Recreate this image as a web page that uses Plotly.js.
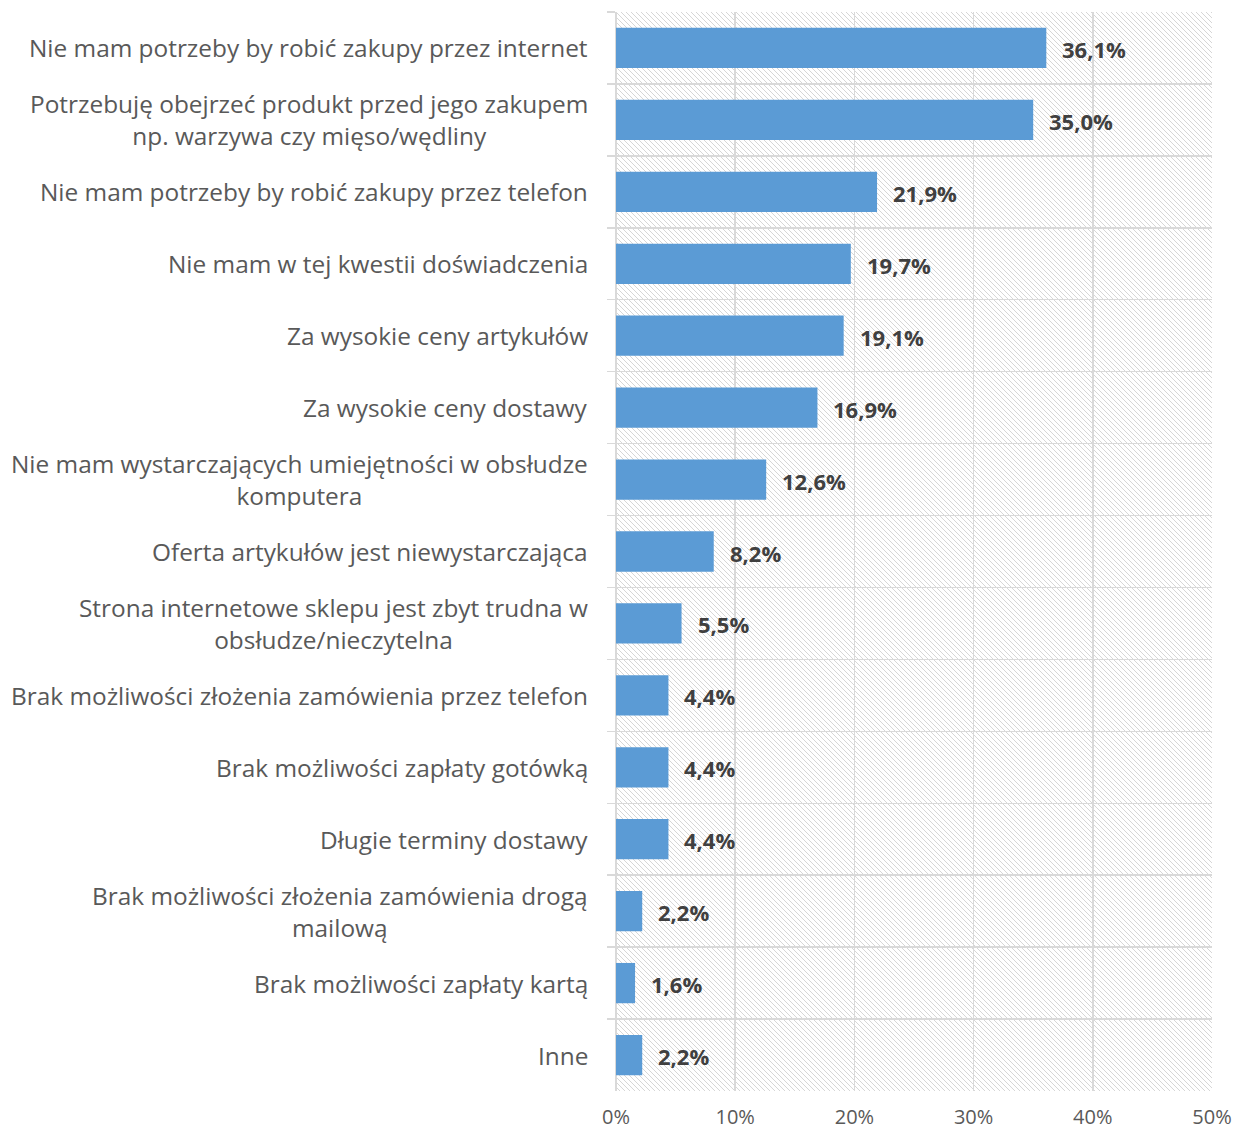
<!DOCTYPE html>
<html><head><meta charset="utf-8">
<script src="https://cdn.plot.ly/plotly-3.0.1.min.js"></script>
<style>html,body{margin:0;padding:0;background:#fff;}</style>
</head><body>
<div id="chart" style="width:1234px;height:1131px;"></div>
<script>
const categories = [
  "Nie mam potrzeby by robić zakupy przez internet",
  "Potrzebuję obejrzeć produkt przed jego zakupem<br>np. warzywa czy mięso/wędliny",
  "Nie mam potrzeby by robić zakupy przez telefon",
  "Nie mam w tej kwestii doświadczenia",
  "Za wysokie ceny artykułów",
  "Za wysokie ceny dostawy",
  "Nie mam wystarczających umiejętności w obsłudze<br>komputera",
  "Oferta artykułów jest niewystarczająca",
  "Strona internetowe sklepu jest zbyt trudna w<br>obsłudze/nieczytelna",
  "Brak możliwości złożenia zamówienia przez telefon",
  "Brak możliwości zapłaty gotówką",
  "Długie terminy dostawy",
  "Brak możliwości złożenia zamówienia drogą<br>mailową",
  "Brak możliwości zapłaty kartą",
  "Inne"
];
const values = [36.1, 35.0, 21.9, 19.7, 19.1, 16.9, 12.6, 8.2, 5.5, 4.4, 4.4, 4.4, 2.2, 1.6, 2.2];
const tickVals = [0, 10, 20, 30, 40, 50];
const tickText = ["0%", "10%", "20%", "30%", "40%", "50%"];

const W = 1234, H = 1131;
const M = {l: 616, r: 22, t: 12, b: 40};
const pw = W - M.l - M.r, ph = H - M.t - M.b;

const svg = `<svg xmlns="http://www.w3.org/2000/svg" width="${pw}" height="${ph}" preserveAspectRatio="none"><defs><pattern id="p" width="5" height="5" patternUnits="userSpaceOnUse"><path d="M0,0 L5,5 M-1,4 L1,6 M4,-1 L6,1" stroke="#d6d6d6" stroke-width="1"/></pattern></defs><rect width="100%" height="100%" fill="white"/><rect width="100%" height="100%" fill="url(#p)"/></svg>`;
const bgImg = "data:image/svg+xml;charset=utf-8," + encodeURIComponent(svg);

const catAnn = categories.map(c => ({
  xref: "paper", yref: "y", x: 0, y: c, xanchor: "right", yanchor: "middle",
  xshift: -26, text: c, showarrow: false, align: "center",
  font: {family: "Open Sans, sans-serif", size: 24.4, color: "#595959"}
}));
const valAnn = values.map((v, i) => ({
  xref: "x", yref: "y", x: v, y: categories[i], xanchor: "left", yanchor: "middle",
  xshift: 14, yshift: -1, text: v.toFixed(1).replace(".", ",") + "%", showarrow: false,
  font: {family: "Open Sans, sans-serif", size: 22, color: "#404040", weight: "bold"}
}));

const trace = {
  type: "bar", orientation: "h", x: values, y: categories,
  marker: {color: "#5b9bd5"}, width: 0.56, hoverinfo: "skip"
};

const layout = {
  width: W, height: H, margin: M,
  paper_bgcolor: "#ffffff", plot_bgcolor: "rgba(0,0,0,0)",
  showlegend: false,
  xaxis: {
    range: [0, 50], tickvals: tickVals, ticktext: tickText,
    showgrid: true, gridcolor: "#d9d9d9", gridwidth: 1.5,
    zeroline: true, zerolinecolor: "#d9d9d9", zerolinewidth: 1.5,
    showline: false, ticks: "", fixedrange: true,
    tickfont: {family: "Open Sans, sans-serif", size: 20, color: "#595959"},
    ticklabelstandoff: 12
  },
  yaxis: {
    type: "category", autorange: "reversed",
    tickson: "boundaries", ticks: "outside", ticklen: 8, tickcolor: "#d9d9d9", tickwidth: 1.5,
    showgrid: true, gridcolor: "#d9d9d9", gridwidth: 1.5,
    showticklabels: false, showline: false, zeroline: false
  },
  images: [{source: bgImg, xref: "paper", yref: "paper", x: 0, y: 1, sizex: 1, sizey: 1,
            xanchor: "left", yanchor: "top", sizing: "stretch", layer: "below"}],
  annotations: catAnn.concat(valAnn)
};

Plotly.newPlot("chart", [trace], layout, {displayModeBar: false, staticPlot: true});
</script>
</body></html>
